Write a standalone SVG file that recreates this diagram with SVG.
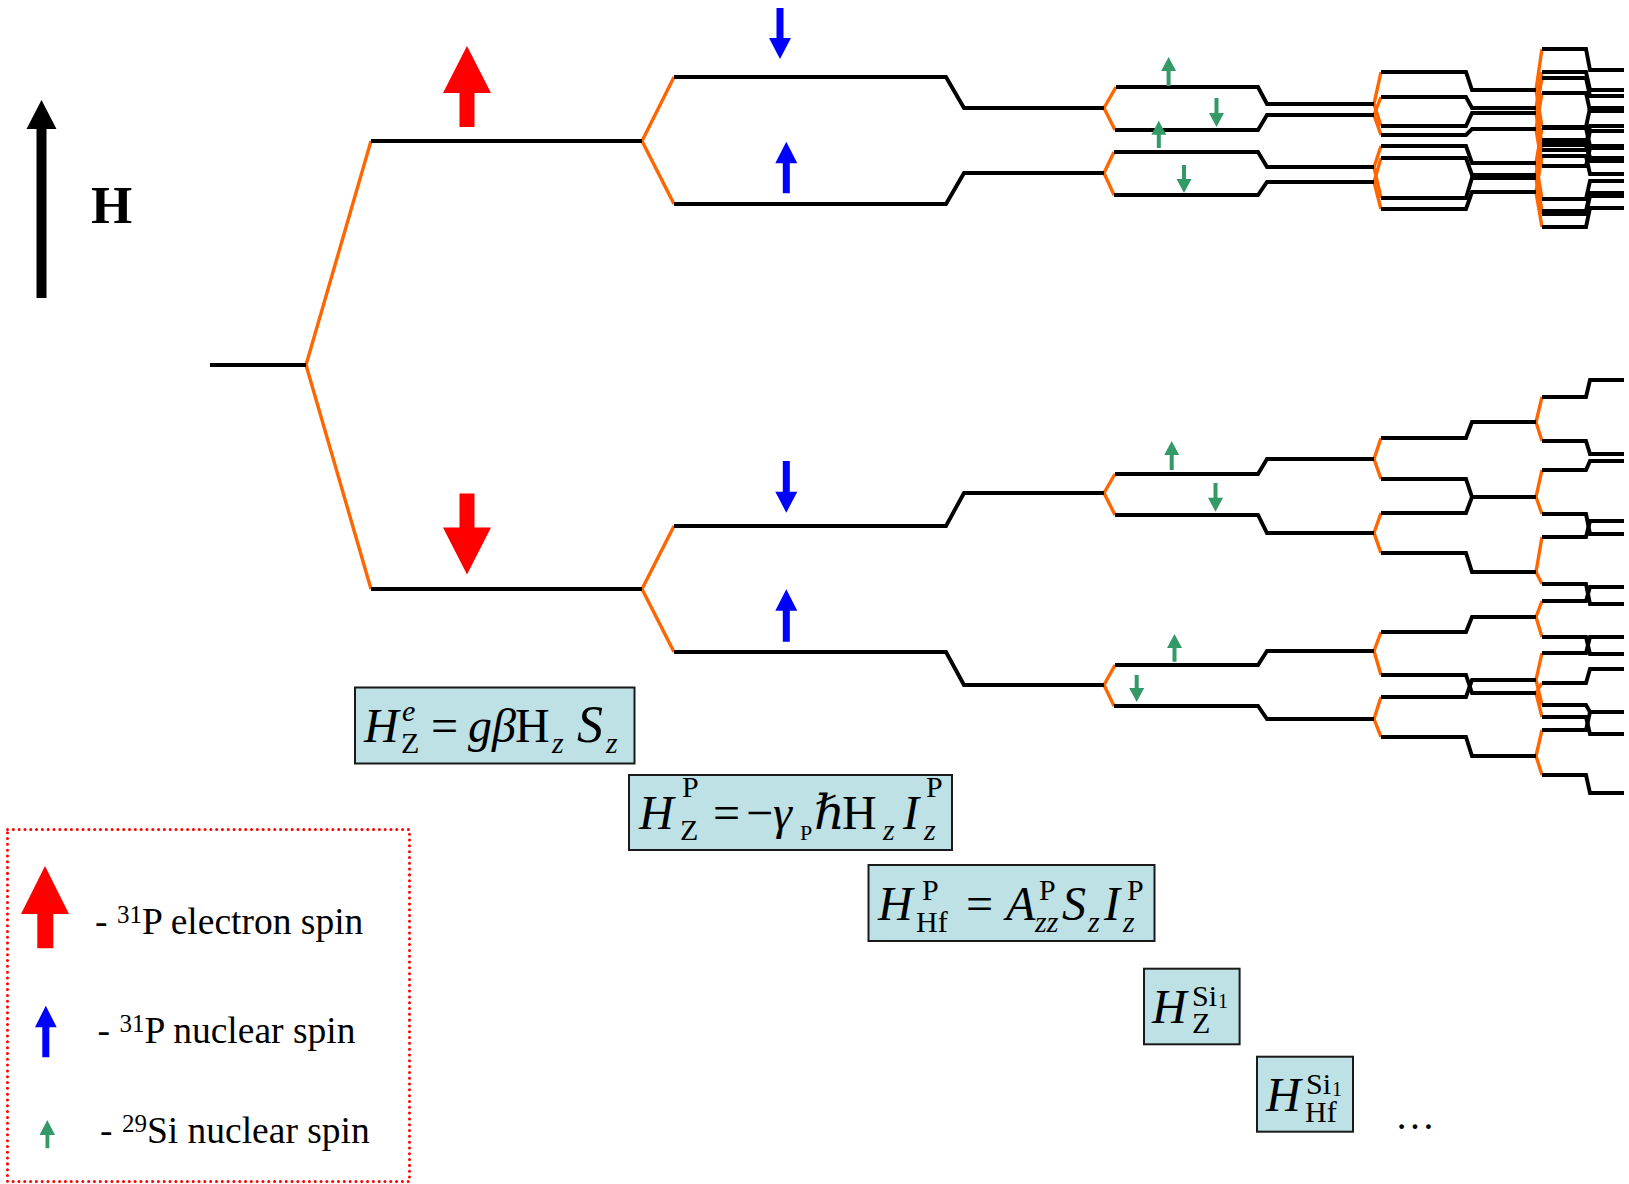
<svg xmlns="http://www.w3.org/2000/svg" width="1629" height="1184" viewBox="0 0 1629 1184">
  <style>
    .lv { fill: none; stroke: #000; stroke-width: 3.9; stroke-linejoin: miter; }
    .sp { fill: none; stroke: #FF6600; stroke-width: 3.4; stroke-linejoin: miter; }
    .box { fill: #BDE1E4; stroke: #1a1a1a; stroke-width: 2; }
    .mi { font-family: 'Liberation Serif', 'DejaVu Serif', serif; font-style: italic; font-size: 48px; fill: #000; }
    .mr { font-family: 'Liberation Serif', 'DejaVu Serif', serif; font-size: 48px; fill: #000; }
    .si { font-family: 'Liberation Serif', 'DejaVu Serif', serif; font-style: italic; font-size: 30px; fill: #000; }
    .sr { font-family: 'Liberation Serif', 'DejaVu Serif', serif; font-size: 30px; fill: #000; }
    .tiny { font-family: 'Liberation Serif', 'DejaVu Serif', serif; font-size: 20px; fill: #000; }
    .lg { font-family: 'Liberation Serif', 'DejaVu Serif', serif; font-size: 37.5px; fill: #000; }
    .red { fill: #FF0000; }
    .blue { fill: #0000FF; }
    .green { fill: #339966; }
  </style>

  <rect width="1629" height="1184" fill="#fff"/>

  <!-- field direction -->
  <g id="field-axis">
    <polygon points="41.5,100 56.5,129 46.5,129 46.5,298 36.5,298 36.5,129 26.5,129" fill="#000"/>
    <text x="91" y="223" font-family="'Liberation Serif', 'DejaVu Serif', serif" font-weight="bold" font-size="53">H</text>
  </g>

  <!-- orange splitting connectors -->
  <g id="connectors">
    <!-- electron Zeeman -->
    <path class="sp" d="M371,141 L306,365 L371,589" stroke-width="3"/>
    <!-- 31P nuclear Zeeman -->
    <path class="sp" d="M674,77 L642,141 L674,204"/>
    <path class="sp" d="M674,526 L642,589 L674,652"/>
    <!-- 29Si stage 1 -->
    <path class="sp" d="M1116,87 L1104,108 L1115,130"/>
    <path class="sp" d="M1114,152 L1104,173 L1114,195"/>
    <path class="sp" d="M1115,474 L1104,493 L1115,515"/>
    <path class="sp" d="M1115,665 L1104,685 L1114,706"/>
    <!-- 29Si stage 2 -->
    <path class="sp" d="M1381,72 L1374,104 L1381,126"/>
    <path class="sp" d="M1381,97 L1374,115 L1381,135"/>
    <path class="sp" d="M1381,146 L1374,167 L1381,198"/>
    <path class="sp" d="M1381,158 L1374,182 L1381,209"/>
    <path class="sp" d="M1381,438 L1374,459 L1381,479"/>
    <path class="sp" d="M1381,513 L1374,533 L1381,553"/>
    <path class="sp" d="M1381,632 L1374,651 L1381,675"/>
    <path class="sp" d="M1381,697 L1374,719 L1381,737"/>
    <!-- 29Si stage 3 -->
    <path class="sp" d="M1542,49 L1536,90 L1542,127"/>
    <path class="sp" d="M1542,72 L1536,108 L1542,145"/>
    <path class="sp" d="M1542,78 L1536,113 L1542,150"/>
    <path class="sp" d="M1542,93 L1536,129 L1542,166"/>
    <path class="sp" d="M1542,128 L1536,163 L1542,199"/>
    <path class="sp" d="M1542,140 L1536,175 L1542,211"/>
    <path class="sp" d="M1542,143 L1536,178 L1542,214"/>
    <path class="sp" d="M1542,156 L1536,192 L1542,227"/>
    <path class="sp" d="M1542,397 L1536,422 L1542,441"/>
    <path class="sp" d="M1542,470 L1536,497 L1542,514"/>
    <path class="sp" d="M1542,537 L1536,572 L1542,584"/>
    <path class="sp" d="M1542,601 L1536,617 L1542,637"/>
    <path class="sp" d="M1542,653 L1536,680 L1542,705"/>
    <path class="sp" d="M1542,683 L1536,693 L1542,717"/>
    <path class="sp" d="M1542,730 L1536,756 L1542,775"/>
  </g>

  <!-- energy levels -->
  <g id="levels">
    <g id="level-unperturbed">
      <path class="lv" d="M210,365 H306"/>
    </g>
    <g id="levels-electron">
      <path class="lv" d="M371,141 H642"/>
      <path class="lv" d="M371,589 H642"/>
    </g>
    <g id="levels-31P">
      <path class="lv" d="M674,77 H946 L964,108 H1104"/>
      <path class="lv" d="M674,204 H946 L964,173 H1104"/>
      <path class="lv" d="M674,526 H946 L964,493 H1104"/>
      <path class="lv" d="M674,652 H946 L964,685 H1104"/>
    </g>
    <g id="levels-29Si-1">
      <path class="lv" d="M1116,87 H1258 L1267,104 H1374"/>
      <path class="lv" d="M1115,130 H1258 L1267,115 H1374"/>
      <path class="lv" d="M1114,152 H1258 L1267,167 H1374"/>
      <path class="lv" d="M1114,195 H1258 L1267,182 H1374"/>
      <path class="lv" d="M1115,474 H1258 L1267,459 H1374"/>
      <path class="lv" d="M1115,515 H1258 L1267,533 H1374"/>
      <path class="lv" d="M1115,665 H1258 L1267,651 H1374"/>
      <path class="lv" d="M1114,706 H1258 L1267,719 H1374"/>
    </g>
    <g id="levels-29Si-2">
      <path class="lv" d="M1381,72 H1466 L1472,90 H1536"/>
      <path class="lv" d="M1381,126 H1466 L1472,113 H1536"/>
      <path class="lv" d="M1381,97 H1466 L1472,108 H1536"/>
      <path class="lv" d="M1381,135 H1466 L1472,129 H1536"/>
      <path class="lv" d="M1381,146 H1466 L1472,163 H1536"/>
      <path class="lv" d="M1381,198 H1466 L1472,178 H1536"/>
      <path class="lv" d="M1381,158 H1466 L1472,175 H1536"/>
      <path class="lv" d="M1381,209 H1466 L1472,192 H1536"/>
      <path class="lv" d="M1381,438 H1466 L1472,422 H1536"/>
      <path class="lv" d="M1381,479 H1466 L1472,497 H1536"/>
      <path class="lv" d="M1381,513 H1466 L1472,497 H1536"/>
      <path class="lv" d="M1381,553 H1466 L1472,572 H1536"/>
      <path class="lv" d="M1381,632 H1466 L1472,617 H1536"/>
      <path class="lv" d="M1381,675 H1466 L1472,693 H1536"/>
      <path class="lv" d="M1381,697 H1466 L1472,680 H1536"/>
      <path class="lv" d="M1381,737 H1466 L1472,756 H1536"/>
    </g>
    <g id="levels-29Si-3">
      <path class="lv" d="M1542,49 H1586 L1590,70 H1624"/>
      <path class="lv" d="M1542,127 H1586 L1590,108 H1624"/>
      <path class="lv" d="M1542,72 H1586 L1590,90 H1624"/>
      <path class="lv" d="M1542,145 H1586 L1590,126 H1624"/>
      <path class="lv" d="M1542,78 H1586 L1590,96 H1624"/>
      <path class="lv" d="M1542,150 H1586 L1590,131 H1624"/>
      <path class="lv" d="M1542,93 H1586 L1590,111 H1624"/>
      <path class="lv" d="M1542,166 H1586 L1590,148 H1624"/>
      <path class="lv" d="M1542,128 H1586 L1590,146 H1624"/>
      <path class="lv" d="M1542,199 H1586 L1590,181 H1624"/>
      <path class="lv" d="M1542,140 H1586 L1590,158 H1624"/>
      <path class="lv" d="M1542,211 H1586 L1590,193 H1624"/>
      <path class="lv" d="M1542,143 H1586 L1590,161 H1624"/>
      <path class="lv" d="M1542,214 H1586 L1590,196 H1624"/>
      <path class="lv" d="M1542,156 H1586 L1590,174 H1624"/>
      <path class="lv" d="M1542,227 H1586 L1590,208 H1624"/>
      <path class="lv" d="M1542,397 H1586 L1590,380 H1624"/>
      <path class="lv" d="M1542,441 H1586 L1590,454 H1624"/>
      <path class="lv" d="M1542,470 H1586 L1590,461 H1624"/>
      <path class="lv" d="M1542,514 H1586 L1590,534 H1624"/>
      <path class="lv" d="M1542,537 H1586 L1590,521 H1624"/>
      <path class="lv" d="M1542,584 H1586 L1590,604 H1624"/>
      <path class="lv" d="M1542,601 H1586 L1590,587 H1624"/>
      <path class="lv" d="M1542,637 H1586 L1590,654 H1624"/>
      <path class="lv" d="M1542,653 H1586 L1590,637 H1624"/>
      <path class="lv" d="M1542,705 H1586 L1590,712 H1624"/>
      <path class="lv" d="M1542,683 H1586 L1590,669 H1624"/>
      <path class="lv" d="M1542,717 H1586 L1590,734 H1624"/>
      <path class="lv" d="M1542,730 H1586 L1590,712 H1624"/>
      <path class="lv" d="M1542,775 H1586 L1590,793 H1624"/>
    </g>
  </g>

  <!-- spin orientation markers -->
  <g id="spin-arrows">
    <!-- electron spin -->
    <polygon class="red" points="467,46 491,93 474.5,93 474.5,127 459.5,127 459.5,93 443,93"/>
    <polygon class="red" points="459.5,493.5 474.5,493.5 474.5,527.5 491,527.5 467,574.5 443,527.5 459.5,527.5"/>
    <!-- 31P nuclear spin -->
    <polygon class="blue" points="776.5,8 783.5,8 783.5,38 791,38 780,59 769,38 776.5,38"/>
    <polygon class="blue" points="786.3,141.7 797.3,163.3 789.8,163.3 789.8,193.3 782.8,193.3 782.8,163.3 775.3,163.3"/>
    <polygon class="blue" points="782.8,461 789.8,461 789.8,491.7 797.3,491.7 786.3,512.7 775.3,491.7 782.8,491.7"/>
    <polygon class="blue" points="786.3,589.3 797.3,610.7 789.8,610.7 789.8,641.7 782.8,641.7 782.8,610.7 775.3,610.7"/>
    <!-- 29Si nuclear spin -->
    <polygon class="green" points="1168.6,57 1176.1,71 1170.6,71 1170.6,86 1166.6,86 1166.6,71 1161.1,71"/>
    <polygon class="green" points="1214.5,98 1218.5,98 1218.5,113 1224,113 1216.5,127 1209,113 1214.5,113"/>
    <polygon class="green" points="1158.8,120.7 1166.3,134.7 1160.8,134.7 1160.8,148 1156.8,148 1156.8,134.7 1151.3,134.7"/>
    <polygon class="green" points="1182,165 1186,165 1186,179 1191.5,179 1184,193 1176.5,179 1182,179"/>
    <polygon class="green" points="1171.7,441 1179.2,455 1173.7,455 1173.7,470 1169.7,470 1169.7,455 1164.2,455"/>
    <polygon class="green" points="1213.5,483 1217.5,483 1217.5,497.7 1223,497.7 1215.5,511.7 1208,497.7 1213.5,497.7"/>
    <polygon class="green" points="1174.5,634 1182,648 1176.5,648 1176.5,661.7 1172.5,661.7 1172.5,648 1167,648"/>
    <polygon class="green" points="1134.7,675 1138.7,675 1138.7,688 1144.2,688 1136.7,702 1129.2,688 1134.7,688"/>
  </g>

  <!-- Hamiltonian terms -->
  <g id="eq-electron-zeeman">
    <rect class="box" x="355" y="687.5" width="279.5" height="76"/>
    <text class="mi" x="364" y="742">H</text>
    <text class="si" x="402" y="721">e</text>
    <text class="sr" x="401" y="753">Z</text>
    <text class="mr" x="431" y="742">=</text>
    <text class="mi" x="468" y="742">gβ</text>
    <text class="mr" x="515" y="742">H</text>
    <text class="si" x="552" y="753">z</text>
    <text class="mi" x="577" y="742" style="font-size:52px">S</text>
    <text class="si" x="606" y="753">z</text>
  </g>

  <g id="eq-phosphorus-zeeman">
    <rect class="box" x="629" y="775" width="323" height="75"/>
    <text class="mi" x="639" y="829">H</text>
    <text class="sr" x="682" y="797">P</text>
    <text class="sr" x="680" y="840">Z</text>
    <text class="mr" x="713" y="829">=</text>
    <text class="mr" x="746" y="829">−</text>
    <text class="mi" x="773" y="829">γ</text>
    <text class="tiny" x="800" y="840" style="font-size:22px">P</text>
    <text class="mi" x="814" y="829">ℏ</text>
    <text class="mr" x="842" y="829">H</text>
    <text class="si" x="883" y="840">z</text>
    <text class="mi" x="903" y="829">I</text>
    <text class="sr" x="926" y="797">P</text>
    <text class="si" x="924" y="840">z</text>
  </g>

  <g id="eq-phosphorus-hyperfine">
    <rect class="box" x="868.5" y="865" width="286" height="76"/>
    <text class="mi" x="878" y="920">H</text>
    <text class="sr" x="922" y="900">P</text>
    <text class="sr" x="916" y="932">Hf</text>
    <text class="mr" x="966" y="920">=</text>
    <text class="mi" x="1006" y="920">A</text>
    <text class="sr" x="1039" y="900">P</text>
    <text class="si" x="1035" y="932">zz</text>
    <text class="mi" x="1062" y="920">S</text>
    <text class="si" x="1088" y="932">z</text>
    <text class="mi" x="1104" y="920">I</text>
    <text class="sr" x="1127" y="900">P</text>
    <text class="si" x="1123" y="932">z</text>
  </g>

  <g id="eq-silicon-zeeman">
    <rect class="box" x="1144" y="968.7" width="95.6" height="75.6"/>
    <text class="mi" x="1152" y="1023">H</text>
    <text class="sr" x="1192" y="1006">Si</text>
    <text class="tiny" x="1218" y="1008">1</text>
    <text class="sr" x="1192" y="1033">Z</text>
  </g>

  <g id="eq-silicon-hyperfine">
    <rect class="box" x="1257" y="1056.7" width="96" height="75"/>
    <text class="mi" x="1266" y="1111">H</text>
    <text class="sr" x="1306" y="1094">Si</text>
    <text class="tiny" x="1332" y="1096">1</text>
    <text class="sr" x="1305" y="1121.5">Hf</text>
  </g>

  <g id="eq-more">
    <text class="mr" x="1395" y="1129" style="font-size:40px">…</text>
  </g>

  <!-- key -->
  <g id="legend">
    <rect x="7.5" y="829.5" width="402" height="352" fill="none" stroke="#FF0000" stroke-width="3" stroke-dasharray="0.01 5.8" stroke-linecap="round"/>
    <polygon class="red" points="45,866 69,914 53.3,914 53.3,948.3 37.3,948.3 37.3,914 21,914"/>
    <text class="lg" x="95" y="934">- <tspan font-size="25" dy="-11">31</tspan><tspan dy="11">P electron spin</tspan></text>
    <polygon class="blue" points="45.8,1005.7 56.7,1027.3 49.3,1027.3 49.3,1057.3 42.3,1057.3 42.3,1027.3 35,1027.3"/>
    <text class="lg" x="97.5" y="1042.7">- <tspan font-size="25" dy="-11">31</tspan><tspan dy="11">P nuclear spin</tspan></text>
    <polygon class="green" points="47.3,1120 55,1135 49.3,1135 49.3,1148.3 45.5,1148.3 45.5,1135 39.5,1135"/>
    <text class="lg" x="100" y="1142.7">- <tspan font-size="25" dy="-11">29</tspan><tspan dy="11">Si nuclear spin</tspan></text>
  </g>
</svg>
